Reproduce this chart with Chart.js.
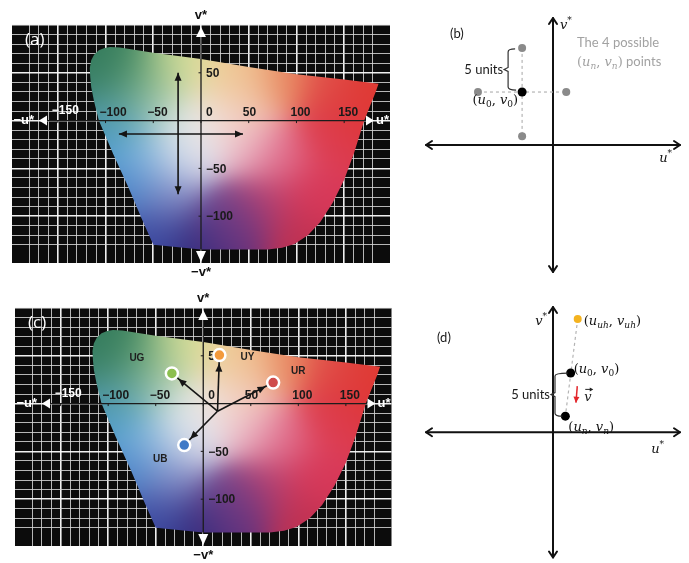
<!DOCTYPE html>
<html>
<head>
<meta charset="utf-8">
<title>CIELUV unique hue search</title>
<script src="https://cdn.jsdelivr.net/npm/chart.js@4.4.0/dist/chart.umd.min.js"></script>
<style>
  html, body { margin: 0; padding: 0; background: #fff; }
  body { position: relative; width: 689px; height: 563px; overflow: hidden; }
  canvas { position: absolute; }
</style>
</head>
<body>
<canvas id="panelA" width="400" height="283" style="left:0;top:0"></canvas>
<canvas id="panelB" width="289" height="283" style="left:400px;top:0"></canvas>
<canvas id="panelC" width="400" height="280" style="left:0;top:283px"></canvas>
<canvas id="panelD" width="289" height="280" style="left:400px;top:283px"></canvas>
<script>
'use strict';

// gamut outline, u* and v*
const gamutU = [-116, -116.5, -115, -112, -107, -101, -95, -85, -50, 0, 50, 100, 150, 186, 183, 171, 160, 150, 138, 125, 112, 98, 85, 70, 0, -50, -62, -76, -92, -107, -112, -115];
const gamutV = [45, 55, 63, 69, 73.5, 76, 77, 76.5, 71, 64.5, 56, 48.5, 43, 38.5, 30, 0, -35, -62, -86, -106, -120, -129, -133, -135, -135, -130, -103, -70, -35, 0, 20, 35];

// numbers written along the two axes
const uTicks = [-150, -100, -50, 0, 50, 100, 150];
const vTicks = [50, -50, -100];

// (a) search cross
const crossHU = [-86, 44];
const crossHV = [-14, -14];
const crossVU = [-24, -24];
const crossVV = [50, -77];

// (c) unique hues and where the arrows start
const hueNames = ['UG', 'UY', 'UR', 'UB'];
const hueU = [-33, 17, 73.5, -20];
const hueV = [31.5, 50.7, 22, -43.4];
const hueFromU = [15];
const hueFromV = [-8];

// (b) start point and its four neighbours
const startU = [-3.5];
const startV = [6];
const candU = [-3.5, -3.5, -8.5, 1.5];
const candV = [11, 1, 6, 6];

// (d) one step towards the unique hue
const uhU = [2.8];
const uhV = [13];
const stepU = [2.0, 1.4];
const stepV = [6.8, 1.85];
const vecU = [2.75, 2.6];
const vecV = [5.3, 3.4];

const hueFill = ['#8cbf4e', '#f39a3c', '#cf4b4b', '#3f79c6'];
const hueLabelShift = [[-35, -15], [28, 2], [25, -11], [-24, 14]];

// colour stops for the gamut fill: u*, v*, r, g, b
const fillStops = [
  [-110, 70, 46, 120, 88], [-100, 61, 61, 128, 96], [-66, 51, 90, 154, 108], [-31, 55, 184, 208, 144],
  [-6, 58, 230, 230, 160], [31, 44, 242, 208, 160], [41, 51, 238, 187, 136], [83, 44, 232, 136, 96],
  [136, 37, 224, 80, 74], [181, 34, 224, 58, 48], [-84, 16, 96, 160, 140], [-48, 16, 168, 204, 184],
  [-13, -8, 232, 236, 236], [15, 0, 244, 230, 226], [40, 12, 242, 200, 180], [48, -26, 234, 184, 200],
  [83, -37, 224, 104, 136], [136, -19, 220, 60, 80], [160, 10, 222, 52, 56], [118, -79, 216, 56, 88],
  [100, -124, 192, 48, 80], [65, -89, 184, 64, 112], [38, -117, 90, 42, 120], [28, -103, 122, 74, 144],
  [-3, -124, 48, 40, 122], [-48, -117, 58, 72, 160], [-31, -79, 136, 144, 200], [-76, -68, 70, 130, 200],
  [-55, -37, 150, 192, 226], [-13, -37, 216, 220, 236], [-90, -19, 80, 160, 212], [-108, 0, 76, 150, 180],
  [-115, 40, 56, 128, 104]
];

const pts = (us, vs) => us.map((u, i) => ({ x: u, y: vs[i] }));
const MATH = '"DejaVu Serif"';
const BOLD = 'bold 12px "Liberation Sans"';

function line(ctx, x1, y1, x2, y2) {
  ctx.beginPath();
  ctx.moveTo(x1, y1);
  ctx.lineTo(x2, y2);
  ctx.stroke();
}

function arrowHead(ctx, tx, ty, dx, dy, len, half, colour) {
  ctx.save();
  ctx.translate(tx, ty);
  ctx.rotate(Math.atan2(dy, dx));
  ctx.fillStyle = colour;
  ctx.beginPath();
  ctx.moveTo(0, 0);
  ctx.lineTo(-len, -half);
  ctx.lineTo(-len, half);
  ctx.closePath();
  ctx.fill();
  ctx.restore();
}

function tri(ctx, x1, y1, x2, y2, x3, y3) {
  ctx.beginPath();
  ctx.moveTo(x1, y1);
  ctx.lineTo(x2, y2);
  ctx.lineTo(x3, y3);
  ctx.closePath();
  ctx.fill();
}

// mixed italic / subscript text, y is the visual middle
function mathText(ctx, x, y, runs, align, colour) {
  const fonts = { i: `italic 13px ${MATH}`, r: `13px ${MATH}`, b: `9px ${MATH}`, bi: `italic 9px ${MATH}`, p: `9px ${MATH}`, s: '13px Lato' };
  const shift = { i: 0, r: 0, b: 3, bi: 3, p: -6, s: 0 };
  let w = 0;
  runs.forEach(([t, k]) => { ctx.font = fonts[k]; w += ctx.measureText(t).width; });
  let cx = align === 'right' ? x - w : align === 'center' ? x - w / 2 : x;
  ctx.save();
  ctx.fillStyle = colour;
  ctx.textAlign = 'left';
  ctx.textBaseline = 'alphabetic';
  runs.forEach(([t, k]) => {
    ctx.font = fonts[k];
    ctx.fillText(t, cx, y + 4.5 + shift[k]);
    cx += ctx.measureText(t).width;
  });
  ctx.restore();
}

function text(ctx, str, x, y, font, colour, align) {
  ctx.font = font;
  ctx.fillStyle = colour;
  ctx.textAlign = align || 'left';
  ctx.textBaseline = 'middle';
  ctx.fillText(str, x, y);
}

// smooth colour field over the whole plot, clipped to the gamut later
function paintField(chart) {
  const a = chart.chartArea, sx = chart.scales.x, sy = chart.scales.y;
  const w = Math.round(a.right - a.left), h = Math.round(a.bottom - a.top);
  const c = document.createElement('canvas');
  c.width = w; c.height = h;
  const g = c.getContext('2d');
  const img = g.createImageData(w, h);
  const k = 1 / (2 * 24 * 24);
  for (let j = 0; j < h; j++) {
    const v = sy.getValueForPixel(a.top + j + 0.5);
    for (let i = 0; i < w; i++) {
      const u = sx.getValueForPixel(a.left + i + 0.5);
      let r = 0, gr = 0, b = 0, sw = 1e-30;
      for (const s of fillStops) {
        const du = u - s[0], dv = v - s[1];
        const wt = Math.exp(-(du * du + dv * dv) * k);
        r += wt * s[2]; gr += wt * s[3]; b += wt * s[4]; sw += wt;
      }
      const o = (j * w + i) * 4;
      img.data[o] = r / sw;
      img.data[o + 1] = gr / sw;
      img.data[o + 2] = b / sw;
      img.data[o + 3] = 255;
    }
  }
  g.putImageData(img, 0, 0);
  return c;
}

function gamutPath(chart) {
  const p = new Path2D();
  chart.getDatasetMeta(0).data.forEach((el, i) => (i ? p.lineTo(el.x, el.y) : p.moveTo(el.x, el.y)));
  p.closePath();
  return p;
}

const arrowPlugin = {
  id: 'arrowHeads',
  afterDatasetsDraw(chart) {
    const ctx = chart.ctx;
    chart.data.datasets.forEach((ds, i) => {
      if (!ds.arrow) return;
      const el = chart.getDatasetMeta(i).data;
      const p = el[0], q = el[el.length - 1];
      const d = Math.hypot(q.x - p.x, q.y - p.y);
      const ux = (q.x - p.x) / d, uy = (q.y - p.y) / d;
      const len = ds.headLen || 8, half = ds.headHalf || 3.5, inset = ds.inset || 0;
      arrowHead(ctx, q.x - ux * inset, q.y - uy * inset, ux, uy, len, half, ds.borderColor);
      if (ds.arrow === 'both') arrowHead(ctx, p.x, p.y, -ux, -uy, len, half, ds.borderColor);
    });
  }
};

function luvPlugin(tag) {
  return {
    id: 'luvAxes',
    beforeDraw(chart) {
      const { ctx, chartArea: a } = chart;
      ctx.save();
      ctx.fillStyle = '#0c0c0c';
      ctx.fillRect(a.left, a.top, a.right - a.left, a.bottom - a.top);
      ctx.restore();
    },
    beforeDatasetsDraw(chart) {
      const { ctx, chartArea: a, scales: { x, y } } = chart;
      if (!chart.$field) chart.$field = paintField(chart);
      const path = gamutPath(chart);
      ctx.save();
      ctx.clip(path);
      ctx.drawImage(chart.$field, Math.round(a.left), Math.round(a.top));
      ctx.restore();

      const x0 = x.getPixelForValue(0), y0 = y.getPixelForValue(0);
      const lTip = a.left + 27, rTip = a.right - 16, tTip = a.top + 2, bTip = a.bottom - 1;
      ctx.save();
      ctx.strokeStyle = '#1c1c1c';
      ctx.lineWidth = 1.3;
      line(ctx, lTip + 8, y0, rTip - 8, y0);
      line(ctx, x0, tTip + 10, x0, bTip - 11);
      ctx.lineWidth = 1;
      uTicks.forEach(t => { const px = x.getPixelForValue(t); line(ctx, px, y0, px, y0 + 2.5); });
      vTicks.forEach(t => { const py = y.getPixelForValue(t); line(ctx, x0 - 2.5, py, x0, py); });

      uTicks.forEach(t => {
        const px = x.getPixelForValue(t);
        const lx = t === 0 ? px + 5 : px - 6;
        const ly = y0 - (t === -150 ? 10 : 8);
        const inside = ctx.isPointInPath(path, lx + 8, ly);
        text(ctx, t < 0 ? '\u2212' + (-t) : String(t), lx, ly, BOLD, inside ? '#1a1a1a' : '#ffffff');
      });
      vTicks.forEach(t => {
        const py = y.getPixelForValue(t) + 1;
        text(ctx, t < 0 ? '\u2212' + (-t) : String(t), x0 + 5, py, BOLD, '#1a1a1a');
      });

      ctx.fillStyle = '#ffffff';
      tri(ctx, lTip, y0, lTip + 8, y0 - 5, lTip + 8, y0 + 5);
      tri(ctx, rTip, y0, rTip - 8, y0 - 5, rTip - 8, y0 + 5);
      tri(ctx, x0, tTip, x0 - 5, tTip + 10, x0 + 5, tTip + 10);
      tri(ctx, x0, bTip, x0 - 5, bTip - 11, x0 + 5, bTip - 11);

      const axisFont = 'bold 13px "Liberation Sans"';
      text(ctx, '\u2212u*', lTip - 5, y0, axisFont, '#ffffff', 'right');
      text(ctx, 'u*', rTip + 2, y0, axisFont, '#ffffff', 'left');
      text(ctx, 'v*', x0, a.top - 10, axisFont, '#111111', 'center');
      text(ctx, '\u2212v*', x0, a.bottom + 9, axisFont, '#111111', 'center');
      text(ctx, tag, a.left + 13, a.top + 15, '17px "Open Sans"', '#ffffff', 'left');
      ctx.restore();
    }
  };
}

const gridColour = c => {
  const v = c.tick.value;
  if (Math.abs(v % 10) > 1e-6) return 'rgba(0,0,0,0)';
  return v % 50 === 0 ? 'rgba(248,248,248,0.97)' : 'rgba(214,214,214,0.85)';
};
const gridWidth = c => (c.tick.value % 50 === 0 ? 1.6 : 1);

function luvScale(min, max) {
  return {
    type: 'linear', min, max,
    ticks: { display: false, stepSize: 10 },
    grid: { color: gridColour, lineWidth: gridWidth, drawTicks: false },
    border: { display: false }
  };
}

function luvChart(id, pad, tag, datasets, extra) {
  return new Chart(document.getElementById(id), {
    type: 'scatter',
    data: { datasets: [{ data: pts(gamutU, gamutV), pointRadius: 0, showLine: false, order: 99 }, ...datasets] },
    options: {
      responsive: false,
      animation: false,
      events: [],
      layout: { padding: pad },
      plugins: { legend: { display: false }, tooltip: { enabled: false } },
      scales: { x: luvScale(-198, 198), y: luvScale(-149, 100) }
    },
    plugins: [luvPlugin(tag), arrowPlugin].concat(extra || [])
  });
}

const blackLine = { showLine: true, pointRadius: 0, borderColor: '#151515', borderWidth: 1.6 };

// (a)
luvChart('panelA', { left: 12, top: 25, right: 10, bottom: 20 }, '(a)', [
  { ...blackLine, data: pts(crossHU, crossHV), arrow: 'both', order: 2 },
  { ...blackLine, data: pts(crossVU, crossVV), arrow: 'both', order: 2 }
]);

// (c)
luvChart('panelC', { left: 15, top: 25, right: 7, bottom: 17 }, '(c)', [
  { data: pts(hueU, hueV), pointRadius: 6, borderWidth: 2.5, borderColor: '#ffffff', backgroundColor: hueFill, order: 1 },
  ...hueU.map((u, i) => ({ ...blackLine, data: pts([hueFromU[0], u], [hueFromV[0], hueV[i]]), arrow: 'end', inset: 8.5, order: 2 }))
], [{
  id: 'hueNames',
  afterDatasetsDraw(chart) {
    const el = chart.getDatasetMeta(1).data;
    hueNames.forEach((n, i) => {
      text(chart.ctx, n, el[i].x + hueLabelShift[i][0], el[i].y + hueLabelShift[i][1], 'bold 10px "Liberation Sans"', '#1e1e1e', 'center');
    });
  }
}]);

// hand-drawn style axes for the two sketches
const sketchAxes = {
  id: 'sketchAxes',
  beforeDatasetsDraw(chart) {
    const { ctx, chartArea: a, scales: { x, y } } = chart;
    const x0 = x.getPixelForValue(0), y0 = y.getPixelForValue(0);
    ctx.save();
    ctx.strokeStyle = '#111';
    ctx.lineWidth = 2;
    ctx.lineCap = 'round';
    ctx.lineJoin = 'round';
    line(ctx, a.left + 1, y0, a.right - 1, y0);
    line(ctx, x0, a.top + 1, x0, a.bottom - 1);
    const chev = (tx, ty, dx, dy) => {
      ctx.beginPath();
      ctx.moveTo(tx - dx * 6 - dy * 4, ty - dy * 6 - dx * 4);
      ctx.lineTo(tx, ty);
      ctx.lineTo(tx - dx * 6 + dy * 4, ty - dy * 6 + dx * 4);
      ctx.stroke();
    };
    chev(a.left + 1, y0, -1, 0);
    chev(a.right - 1, y0, 1, 0);
    chev(x0, a.top + 1, 0, -1);
    chev(x0, a.bottom - 1, 0, 1);
    ctx.restore();
  }
};

function brace(ctx, bx, top, bottom, topEnd, bottomEnd) {
  const mid = (top + bottom) / 2;
  ctx.save();
  ctx.strokeStyle = '#333';
  ctx.lineWidth = 1.2;
  ctx.beginPath();
  ctx.moveTo(topEnd, top);
  ctx.quadraticCurveTo(bx, top, bx, top + 3);
  ctx.lineTo(bx, mid - 2);
  ctx.lineTo(bx - 4, mid);
  ctx.lineTo(bx, mid + 2);
  ctx.lineTo(bx, bottom - 3);
  ctx.quadraticCurveTo(bx, bottom, bottomEnd, bottom);
  ctx.stroke();
  ctx.restore();
  return mid;
}

function sketchChart(id, pad, datasets, draw) {
  return new Chart(document.getElementById(id), {
    type: 'scatter',
    data: { datasets },
    options: {
      responsive: false,
      animation: false,
      events: [],
      layout: { padding: pad },
      plugins: { legend: { display: false }, tooltip: { enabled: false } },
      scales: {
        x: { type: 'linear', min: -14.5, max: 14.5, display: false },
        y: { type: 'linear', min: -14.5, max: 14.5, display: false }
      }
    },
    plugins: [sketchAxes, arrowPlugin, { id: 'notes', afterDatasetsDraw: draw }]
  });
}

const dashed = { showLine: true, pointRadius: 0, borderColor: '#b4b4b4', borderWidth: 1.2, borderDash: [3, 3] };
const GREY = '#a2a2a2';

// (b)
sketchChart('panelB', { left: 25, top: 17, right: 8, bottom: 10 }, [
  { data: pts(startU, startV), pointRadius: 4.5, backgroundColor: '#000', borderWidth: 0, order: 0 },
  { data: pts(candU, candV), pointRadius: 4, backgroundColor: '#8a8a8a', borderWidth: 0, order: 1 },
  { ...dashed, data: pts(candU.slice(0, 2), candV.slice(0, 2)), order: 2 },
  { ...dashed, data: pts(candU.slice(2), candV.slice(2)), order: 2 }
], chart => {
  const { ctx, chartArea: a, scales: { x, y } } = chart;
  const x0 = x.getPixelForValue(0), y0 = y.getPixelForValue(0);
  const s = chart.getDatasetMeta(0).data[0];
  const top = chart.getDatasetMeta(1).data[0];
  const bx = s.x - 14;
  const mid = brace(ctx, bx, top.y + 1, s.y - 2, bx + 7, bx + 8);
  text(ctx, '5 units', bx - 5, mid, '13px Lato', '#1a1a1a', 'right');
  mathText(ctx, s.x - 4, s.y + 7, [['(', 'r'], ['u', 'i'], ['0', 'b'], [',', 'r'], [' ', 'r'], ['v', 'i'], ['0', 'b'], [')', 'r']], 'right', '#111');
  text(ctx, '(b)', a.left + 25, a.top + 17, '13px Lato', '#1a1a1a', 'left');
  text(ctx, 'The 4 possible', x0 + 24, a.top + 26, '13px Lato', GREY, 'left');
  mathText(ctx, x0 + 24, a.top + 44, [['(', 'r'], ['u', 'i'], ['n', 'bi'], [',', 'r'], [' ', 'r'], ['v', 'i'], ['n', 'bi'], [')', 'r'], [' points', 's']], 'left', GREY);
  mathText(ctx, x0 + 7, a.top + 7, [['v', 'i'], ['*', 'p']], 'left', '#111');
  mathText(ctx, a.right - 9, y0 + 12, [['u', 'i'], ['*', 'p']], 'right', '#111');
});

// (d)
sketchChart('panelD', { left: 25, top: 23, right: 8, bottom: 1 }, [
  { data: pts(uhU, uhV), pointRadius: 4, backgroundColor: '#f4b320', borderWidth: 0, order: 0 },
  { data: pts(stepU, stepV), pointRadius: 4.5, backgroundColor: '#000', borderWidth: 0, order: 1 },
  { showLine: true, pointRadius: 0, data: pts(vecU, vecV), borderColor: '#e3262b', borderWidth: 1.5, arrow: 'end', headLen: 6, headHalf: 3, order: 2 },
  { ...dashed, data: pts([uhU[0], stepU[1]], [uhV[0], stepV[1]]), order: 3 }
], chart => {
  const { ctx, chartArea: a, scales: { x, y } } = chart;
  const x0 = x.getPixelForValue(0), y0 = y.getPixelForValue(0);
  const uh = chart.getDatasetMeta(0).data[0];
  const [p0, pn] = chart.getDatasetMeta(1).data;
  const vec = chart.getDatasetMeta(2).data;
  const bx = x0 + 2;
  const mid = brace(ctx, bx, p0.y, pn.y, p0.x - 3, pn.x - 3);
  text(ctx, '5 units', bx - 5, mid, '13px Lato', '#1a1a1a', 'right');
  mathText(ctx, uh.x + 6, uh.y + 1, [['(', 'r'], ['u', 'i'], ['uh', 'bi'], [',', 'r'], [' ', 'r'], ['v', 'i'], ['uh', 'bi'], [')', 'r']], 'left', '#111');
  mathText(ctx, p0.x + 3, p0.y - 5, [['(', 'r'], ['u', 'i'], ['0', 'b'], [',', 'r'], [' ', 'r'], ['v', 'i'], ['0', 'b'], [')', 'r']], 'left', '#111');
  mathText(ctx, pn.x + 3, pn.y + 10, [['(', 'r'], ['u', 'i'], ['n', 'bi'], [',', 'r'], [' ', 'r'], ['v', 'i'], ['n', 'bi'], [')', 'r']], 'left', '#111');
  // vector symbol next to the red step arrow
  const vx = vec[0].x + 7, vy = (vec[0].y + vec[1].y) / 2 + 2;
  mathText(ctx, vx, vy, [['v', 'i']], 'left', '#222');
  ctx.save();
  ctx.strokeStyle = '#222';
  ctx.lineWidth = 1;
  line(ctx, vx + 1, vy - 7, vx + 8, vy - 7);
  arrowHead(ctx, vx + 9, vy - 7, 1, 0, 3.5, 2, '#222');
  ctx.restore();
  text(ctx, '(d)', a.left + 12, a.top + 32, '13px Lato', '#1a1a1a', 'left');
  mathText(ctx, x0 - 6, a.top + 14, [['v', 'i'], ['*', 'p']], 'right', '#111');
  mathText(ctx, a.right - 17, y0 + 16, [['u', 'i'], ['*', 'p']], 'right', '#111');
});
</script>
</body>
</html>
